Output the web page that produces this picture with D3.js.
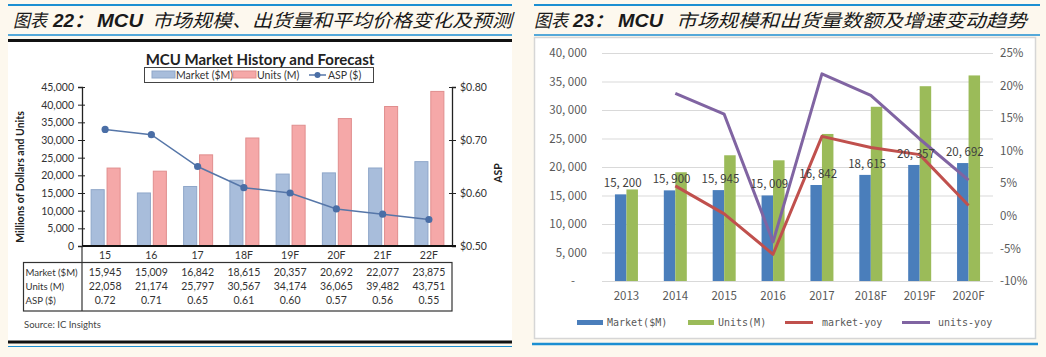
<!DOCTYPE html>
<html><head><meta charset="utf-8">
<script src="https://cdn.jsdelivr.net/npm/d3@7"></script>
<style>html,body{margin:0;padding:0;background:#fdf8ee;} svg{display:block}</style>
</head><body><svg id="c" width="1046" height="357"></svg>
<script>
// ---------- data: left chart (IC Insights) ----------
const leftCats = ["15","16","17","18F","19F","20F","21F","22F"];
const leftMarket = [15945,15009,16842,18615,20357,20692,22077,23875];
const leftUnits = [22058,21174,25797,30567,34174,36065,39482,43751];
const leftASP = [0.72,0.71,0.65,0.61,0.60,0.57,0.56,0.55];
const leftYTicks = [0,5000,10000,15000,20000,25000,30000,35000,40000,45000];
const leftASPTicks = [0.50,0.60,0.70,0.80];
const leftMarketText = ["15,945","15,009","16,842","18,615","20,357","20,692","22,077","23,875"];
const leftUnitsText = ["22,058","21,174","25,797","30,567","34,174","36,065","39,482","43,751"];
const leftASPText = ["0.72","0.71","0.65","0.61","0.60","0.57","0.56","0.55"];
const leftSeries = ["Market ($M)","Units (M)","ASP ($)"];

// ---------- data: right chart ----------
const rightCats = ["2013","2014","2015","2016","2017","2018F","2019F","2020F"];
const rightMarket = [15200,15900,15945,15009,16842,18615,20357,20692];
const rightUnits = [16060,19080,22058,21174,25797,30567,34174,36065];
const marketYoy = [null,4.6,0.3,-5.9,12.2,10.5,9.4,1.6];
const unitsYoy = [null,18.8,15.6,-4.0,21.8,18.5,11.8,5.5];
const rightYTicks = [0,5000,10000,15000,20000,25000,30000,35000,40000];
const rightPctTicks = [-10,-5,0,5,10,15,20,25];
const rightSeries = ["Market($M)","Units(M)","market-yoy","units-yoy"];

const svg = d3.select("#c");
const blue = "#1c8fd2";

// ---------- panel frames & titles ----------
function titleBlock(x0, x1, parts) {
  svg.append("line").attr("x1",x0).attr("x2",x1).attr("y1",5).attr("y2",5).attr("stroke",blue).attr("stroke-width",2);
  parts.forEach(p => {
    svg.append("text").attr("x",p.x).attr("y",27).attr("textLength",p.w).attr("lengthAdjust","spacingAndGlyphs")
      .attr("font-family", p.bold ? "'Liberation Sans','Noto Sans CJK SC'" : "'Noto Sans CJK SC'")
      .attr("font-weight", p.bold ? "bold" : "normal")
      .attr("font-size",18).attr("font-style","italic").attr("fill","#1a1a1a").text(p.t);
  });
  svg.append("line").attr("x1",x0).attr("x2",x1).attr("y1",35).attr("y2",35).attr("stroke",blue).attr("stroke-width",1.5);
}
titleBlock(8, 512, [
  {t:"图表", x:13, w:34}, {t:"22：", x:53, w:40, bold:true}, {t:"MCU", x:97, w:46, bold:true},
  {t:"市场规模、出货量和平均价格变化及预测", x:152, w:360}]);
titleBlock(534, 1040, [
  {t:"图表", x:534, w:34}, {t:"23：", x:573, w:40, bold:true}, {t:"MCU", x:618, w:45, bold:true},
  {t:"市场规模和出货量数额及增速变动趋势", x:676, w:351}]);

// left panel frame
svg.append("rect").attr("x",8).attr("y",41).attr("width",504).attr("height",300).attr("fill","#ffffff");
svg.append("line").attr("x1",8).attr("x2",512).attr("y1",40.5).attr("y2",40.5).attr("stroke","#111").attr("stroke-width",3);
svg.append("line").attr("x1",8).attr("x2",512).attr("y1",342).attr("y2",342).attr("stroke","#111").attr("stroke-width",3);
svg.append("line").attr("x1",8).attr("x2",512).attr("y1",346.5).attr("y2",346.5).attr("stroke",blue).attr("stroke-width",1.2);

// right panel frame
svg.append("rect").attr("x",534.5).attr("y",37.5).attr("width",501).attr("height",301).attr("fill","#ffffff").attr("stroke","#d6d6d6").attr("stroke-width",1.5);
svg.append("line").attr("x1",532).attr("x2",1038).attr("y1",344).attr("y2",344).attr("stroke",blue).attr("stroke-width",2.5);

// ================= LEFT CHART =================
const LF = "'Lato','Open Sans',sans-serif";
const L = svg.append("g").attr("font-family",LF).attr("fill","#333");
L.append("text").attr("x",260).attr("y",65).attr("text-anchor","middle").attr("font-size",15).attr("font-weight","bold").attr("fill","#222")
  .text("MCU Market History and Forecast");

const xL = d3.scaleBand().domain(leftCats).range([82,452]);
const xL1 = d3.scaleBand().domain(["m","u"]).range([-14,15]).paddingInner(0.18);
const yL = d3.scaleLinear().domain([0,45000]).range([246,87]);
const yA = d3.scaleLinear().domain([0.5,0.8]).range([246,87]);
const cx = c => xL(c) + xL.bandwidth()/2;

L.append("g").selectAll("rect").data(leftCats).join("rect")
  .attr("x",(c)=>cx(c)+xL1("m")).attr("width",xL1.bandwidth())
  .attr("y",(c,i)=>yL(leftMarket[i])).attr("height",(c,i)=>yL(0)-yL(leftMarket[i]))
  .attr("fill","#a8bddb").attr("stroke","#8fa7c9").attr("stroke-width",1);
L.append("g").selectAll("rect").data(leftCats).join("rect")
  .attr("x",(c)=>cx(c)+xL1("u")).attr("width",xL1.bandwidth())
  .attr("y",(c,i)=>yL(leftUnits[i])).attr("height",(c,i)=>yL(0)-yL(leftUnits[i]))
  .attr("fill","#f5a8a8").attr("stroke","#e08e8e").attr("stroke-width",1);

const aspLine = d3.line().x((d,i)=>cx(leftCats[i])).y(d=>yA(d));
L.append("path").attr("d",aspLine(leftASP)).attr("fill","none").attr("stroke","#5676a8").attr("stroke-width",1.5);
L.append("g").selectAll("circle").data(leftASP).join("circle")
  .attr("cx",(d,i)=>cx(leftCats[i])).attr("cy",d=>yA(d)).attr("r",3.6).attr("fill","#4a6ea6");

// left axis
const axL = L.append("g").attr("transform","translate(82,0)")
  .call(d3.axisLeft(yL).tickValues(leftYTicks).tickFormat(d3.format(",")).tickSize(4).tickPadding(4));
axL.selectAll(".tick line").attr("x1",3).attr("x2",-4).attr("stroke","#222");
axL.select(".domain").attr("stroke","#222").attr("stroke-width",1.3);
axL.selectAll("text").attr("font-family",LF).attr("font-size",10.5).attr("fill","#333");
// right ASP axis
const axR = L.append("g").attr("transform","translate(452,0)")
  .call(d3.axisRight(yA).tickValues(leftASPTicks).tickFormat(d3.format("$.2f")).tickSize(4).tickPadding(4));
axR.selectAll(".tick line").attr("x1",-3).attr("x2",4).attr("stroke","#222");
axR.select(".domain").attr("stroke","#222").attr("stroke-width",1.3);
axR.selectAll("text").attr("font-family",LF).attr("font-size",10.5).attr("fill","#333");
// x axis
L.append("line").attr("x1",82).attr("x2",456).attr("y1",246).attr("y2",246).attr("stroke","#111").attr("stroke-width",2);
L.append("g").selectAll("text").data(leftCats).join("text")
  .attr("x",c=>cx(c)).attr("y",259).attr("text-anchor","middle").attr("font-size",10.5).text(c=>c);

// axis titles
L.append("text").attr("transform","translate(24,177) rotate(-90)").attr("text-anchor","middle")
  .attr("font-size",10.5).attr("font-weight","bold").attr("fill","#222").text("Millions of Dollars and Units");
L.append("text").attr("transform","translate(502,173) rotate(-90)").attr("text-anchor","middle")
  .attr("font-size",10.5).attr("font-weight","bold").attr("fill","#222").text("ASP");

// legend
const lg = L.append("g");
lg.append("rect").attr("x",144.5).attr("y",67.5).attr("width",229).attr("height",15).attr("fill","#fff").attr("stroke","#444");
lg.append("rect").attr("x",152).attr("y",71).attr("width",23).attr("height",7).attr("fill","#a8bddb").attr("stroke","#8fa7c9");
lg.append("text").attr("x",176).attr("y",79).attr("font-size",10.5).text(leftSeries[0]);
lg.append("rect").attr("x",233).attr("y",71).attr("width",23).attr("height",7).attr("fill","#f5a8a8").attr("stroke","#e08e8e");
lg.append("text").attr("x",257).attr("y",79).attr("font-size",10.5).text(leftSeries[1]);
lg.append("line").attr("x1",309).attr("x2",326).attr("y1",75).attr("y2",75).attr("stroke","#5676a8").attr("stroke-width",1.5);
lg.append("circle").attr("cx",317.5).attr("cy",75).attr("r",3).attr("fill","#4a6ea6");
lg.append("text").attr("x",328).attr("y",79).attr("font-size",10.5).text(leftSeries[2]);

// data table
const tb = L.append("g");
tb.append("rect").attr("x",23.5).attr("y",262.5).attr("width",428.5).attr("height",48.5).attr("fill","none").attr("stroke","#333").attr("stroke-width",1.2);
tb.append("line").attr("x1",82).attr("x2",82).attr("y1",246).attr("y2",311).attr("stroke","#333").attr("stroke-width",1.2);
const rows = [leftMarketText,leftUnitsText,leftASPText];
rows.forEach((r,ri)=>{
  const y = 276 + ri*14;
  tb.append("text").attr("x",25.5).attr("y",y).attr("font-size",9.6).text(leftSeries[ri]);
  tb.append("g").selectAll("text").data(r).join("text")
    .attr("x",(d,i)=>cx(leftCats[i])).attr("y",y).attr("text-anchor","middle").attr("font-size",10.5).text(d=>d);
});
L.append("text").attr("x",24).attr("y",328).attr("font-size",9.5).attr("fill","#444").text("Source:  IC Insights");

// ================= RIGHT CHART =================
const RF = "'Noto Sans CJK SC',sans-serif";
const R = svg.append("g").attr("font-family",RF);
const xR = d3.scaleBand().domain(rightCats).range([602,993]);
const yR = d3.scaleLinear().domain([0,40000]).range([281,53]);
const yP = d3.scaleLinear().domain([-10,25]).range([281,53]);
const rc = c => xR(c) + xR.bandwidth()/2;
const bw = 11.5;

// gridlines + left axis labels
const gAx = R.append("g").attr("transform","translate(602,0)")
  .call(d3.axisLeft(yR).tickValues(rightYTicks).tickSize(-391).tickPadding(15)
    .tickFormat(d => d===0 ? "-" : d3.format(",")(d).replace(",", ", ")));
gAx.select(".domain").remove();
gAx.selectAll(".tick line").attr("stroke","#d9d9d9").attr("stroke-width",1);
gAx.selectAll("text").attr("font-family",RF).attr("font-size",11.5).attr("fill","#595959");
gAx.selectAll(".tick").filter(d=>d===0).select("text").attr("dx",-12);

// right pct axis labels
const gP = R.append("g").attr("transform","translate(993,0)")
  .call(d3.axisRight(yP).tickValues(rightPctTicks).tickSize(0).tickPadding(7).tickFormat(d=>d+"%"));
gP.select(".domain").remove();
gP.selectAll("text").attr("font-family",RF).attr("font-size",11.5).attr("fill","#595959");

// bars
R.append("g").selectAll("rect").data(rightCats).join("rect")
  .attr("x",c=>rc(c)-bw).attr("width",bw)
  .attr("y",(c,i)=>yR(rightMarket[i])).attr("height",(c,i)=>yR(0)-yR(rightMarket[i]))
  .attr("fill","#4a7ebb");
R.append("g").selectAll("rect").data(rightCats).join("rect")
  .attr("x",c=>rc(c)).attr("width",bw)
  .attr("y",(c,i)=>yR(rightUnits[i])).attr("height",(c,i)=>yR(0)-yR(rightUnits[i]))
  .attr("fill","#9bbb59");

// yoy lines
const yoyLine = d3.line().defined(d=>d!==null).x((d,i)=>rc(rightCats[i])).y(d=>yP(d));
R.append("path").attr("d",yoyLine(unitsYoy)).attr("fill","none").attr("stroke","#8064a2").attr("stroke-width",3).attr("stroke-linejoin","round");
R.append("path").attr("d",yoyLine(marketYoy)).attr("fill","none").attr("stroke","#c0504d").attr("stroke-width",3).attr("stroke-linejoin","round");

// data labels
R.append("g").selectAll("text").data(rightCats).join("text")
  .attr("x",c=>rc(c)-bw/2+2).attr("y",(c,i)=>yR(rightMarket[i])-7)
  .attr("text-anchor","middle").attr("font-size",11.5).attr("fill","#404040")
  .text((c,i)=>d3.format(",")(rightMarket[i]).replace(",", ", "));

// category labels
R.append("g").selectAll("text").data(rightCats).join("text")
  .attr("x",c=>rc(c)).attr("y",300).attr("text-anchor","middle").attr("font-size",11.5).attr("fill","#595959").text(c=>c);

// legend
const MF = "'DejaVu Sans Mono','Liberation Mono',monospace";
const rl = R.append("g").attr("font-family",MF).attr("font-size",10).attr("fill","#595959");
rl.append("rect").attr("x",577).attr("y",320).attr("width",26).attr("height",5).attr("fill","#4a7ebb");
rl.append("text").attr("x",607).attr("y",326).text(rightSeries[0]);
rl.append("rect").attr("x",688).attr("y",320).attr("width",26).attr("height",5).attr("fill","#9bbb59");
rl.append("text").attr("x",718).attr("y",326).text(rightSeries[1]);
rl.append("line").attr("x1",785).attr("x2",813).attr("y1",322.5).attr("y2",322.5).attr("stroke","#c0504d").attr("stroke-width",3);
rl.append("text").attr("x",822).attr("y",326).text(rightSeries[2]);
rl.append("line").attr("x1",902).attr("x2",930).attr("y1",322.5).attr("y2",322.5).attr("stroke","#8064a2").attr("stroke-width",3);
rl.append("text").attr("x",938).attr("y",326).text(rightSeries[3]);
</script></body></html>
